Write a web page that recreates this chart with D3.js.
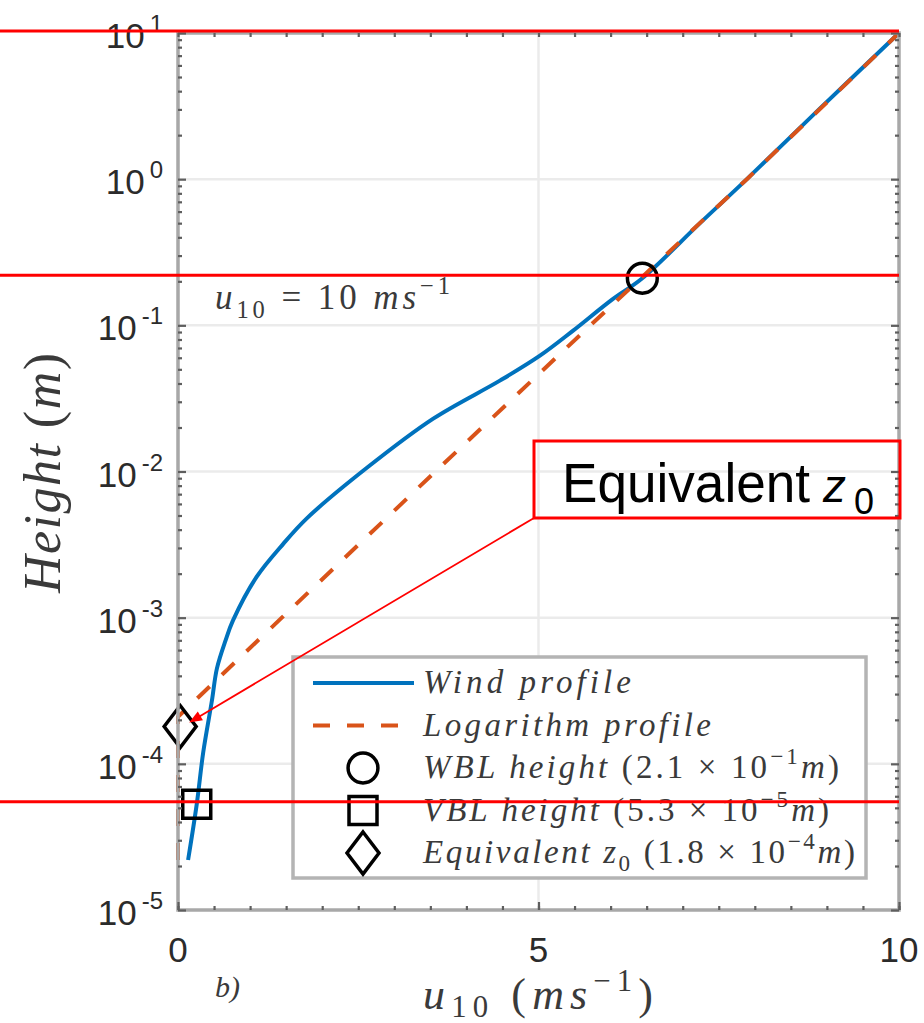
<!DOCTYPE html>
<html>
<head>
<meta charset="utf-8">
<script src="https://cdn.jsdelivr.net/npm/d3@7"></script>
<style>
  body { margin: 0; background: #fff; }
  svg { display: block; }
</style>
</head>
<body>
<svg id="chart" width="924" height="1023"></svg>
<script>
// ---- data -------------------------------------------------------------
// Wind profile (solid blue): height (m) and wind speed (m/s)
const windHeight = [2.2e-5, 5.3e-5, 1.2e-4, 2.7e-4, 4.5e-4, 7e-4, 9.5e-4, 1.9e-3, 3.2e-3, 4.8e-3,
                    1.06e-2, 2.3e-2, 4.2e-2, 6.2e-2, 9.2e-2, 0.15, 0.21, 0.5, 1, 3, 10];
const windSpeed  = [0.14, 0.26, 0.35, 0.47, 0.54, 0.66, 0.76, 1.09, 1.46, 1.79,
                    2.62, 3.54, 4.47, 5.02, 5.48, 6.02, 6.44, 7.24, 7.89, 8.89, 10];

// Logarithm profile (dashed orange)
const logHeight = [2.2e-5, 2.1e-4, 1e-3, 1e-2, 1e-1, 1, 10];
const logSpeed  = [0, 0, 1.44, 3.57, 5.72, 7.89, 10];

// Characteristic heights
const markerKind   = ["circle", "square", "diamond"];
const markerHeight = [0.21, 5.3e-5, 1.8e-4];
const markerSpeed  = [6.44, 0.26, 0.03];

// Highlight lines across the plot
const guideHeight = [10.3, 0.22, 5.5e-5];

// Axis ticks
const xTickValues = [0, 5, 10];
const xTickLabels = ["0", "5", "10"];
const xMinorTicks = d3.range(0, 10.01, 0.5);
const yTickValues = [1e-5, 1e-4, 1e-3, 1e-2, 1e-1, 1, 10];
const yTickExps   = ["-5", "-4", "-3", "-2", "-1", "0", "1"];
const yMinorTicks = yTickValues.slice(0, -1).flatMap(p => d3.range(2, 10).map(k => k * p));

// Legend entries (text parts: i = italic, n = upright, sub/sup = scripts)
const legendEntries = [
  { kind: "line",   parts: [["Wind profile", "i"]], width: 208 },
  { kind: "dash",   parts: [["Logarithm profile", "i"]], width: 288 },
  { kind: "circle", parts: [["WBL height ", "i"], ["(2.1 × 10", "n"], ["−1", "sup"], ["m", "i"], [")", "n"]], width: 416 },
  { kind: "square", parts: [["VBL height ", "i"], ["(5.3 × 10", "n"], ["−5", "sup"], ["m", "i"], [")", "n"]], width: 406 },
  { kind: "diamond",parts: [["Equivalent ", "i"], ["z", "i"], ["0", "sub"], [" (1.8 × 10", "n"], ["−4", "sup"], ["m", "i"], [")", "n"]], width: 432 }
];

// ---- setup ------------------------------------------------------------
const BLUE = "#0072BD", ORANGE = "#D95319", RED = "#ff0000";
const SERIF = "'Liberation Serif', 'Times New Roman', serif";
const SANS = "'Liberation Sans', Arial, Helvetica, sans-serif";
const TEXT = "#3a3a3a";

const svg = d3.select("#chart");
const x = d3.scaleLinear().domain([0, 10]).range([178, 899]);
const y = d3.scaleLog().domain([1e-5, 10]).range([910, 33]);
const [x0, x1] = x.range();
const [yb, yt] = y.range();

// Write a LaTeX-like math string into a <text> element
function mathText(sel, parts, base, subShift = 0.25) {
  let shift = 0;
  parts.forEach(([t, s]) => {
    const ts = sel.append("tspan").text(t);
    let target = 0;
    if (s === "sub") target = base * subShift;
    if (s === "sup") target = -base * 0.42;
    if (target - shift !== 0) ts.attr("dy", target - shift);
    shift = target;
    if (s === "sub" || s === "sup") ts.attr("font-size", base * 0.7);
    ts.attr("font-style", s === "i" ? "italic" : "normal");
  });
}

// ---- grid -------------------------------------------------------------
const grid = svg.append("g").attr("stroke", "#ebebeb").attr("stroke-width", 2.5);
grid.selectAll(".gx").data(xTickValues.slice(1, -1)).join("line")
  .attr("x1", d => x(d)).attr("x2", d => x(d)).attr("y1", yt).attr("y2", yb);
grid.selectAll(".gy").data(yTickValues.slice(1, -1)).join("line")
  .attr("x1", x0).attr("x2", x1).attr("y1", d => y(d)).attr("y2", d => y(d));

// ---- profiles ---------------------------------------------------------
const windData = windHeight.map((z, i) => ({ z, u: windSpeed[i] }));
const logData  = logHeight.map((z, i) => ({ z, u: logSpeed[i] }));

svg.append("path")
  .attr("d", d3.line().x(d => x(d.u)).y(d => y(d.z)).curve(d3.curveCatmullRom.alpha(0.5))(windData))
  .attr("fill", "none").attr("stroke", BLUE).attr("stroke-width", 4);

svg.append("path")
  .attr("d", d3.line().x(d => x(d.u)).y(d => y(d.z))(logData))
  .attr("fill", "none").attr("stroke", ORANGE).attr("stroke-width", 4)
  .attr("stroke-dasharray", "17,17");

// ---- markers ----------------------------------------------------------
function drawMarker(g, kind, cx, cy) {
  const s = g.append("path").attr("fill", "none").attr("stroke", "#000").attr("stroke-width", 3.5);
  if (kind === "circle") {
    s.attr("d", d3.symbol(d3.symbolCircle, 700)()).attr("transform", `translate(${cx},${cy})`);
  } else if (kind === "square") {
    s.attr("d", `M${cx - 14},${cy - 14}h28v28h-28Z`);
  } else {
    s.attr("d", `M${cx},${cy - 21}L${cx + 16},${cy}L${cx},${cy + 21}L${cx - 16},${cy}Z`);
  }
}
const markers = svg.append("g");
markerKind.forEach((k, i) => drawMarker(markers, k, x(markerSpeed[i]), y(markerHeight[i])));

// ---- axes -------------------------------------------------------------
const axes = svg.append("g");
axes.append("rect").attr("x", x0).attr("y", yt).attr("width", x1 - x0).attr("height", yb - yt)
  .attr("fill", "none").attr("stroke", "#a8a8a8").attr("stroke-width", 3.5);

function tickAxis(axis, transform, values, size) {
  const g = axes.append("g").attr("transform", transform)
    .call(axis.tickValues(values).tickSize(size).tickFormat(""));
  g.select(".domain").remove();
  g.selectAll(".tick line").attr("stroke", "#5e5e5e").attr("stroke-width", 2.2);
}
tickAxis(d3.axisBottom(x), `translate(0,${yb})`, xMinorTicks, -4);
tickAxis(d3.axisTop(x), `translate(0,${yt})`, xMinorTicks, -4);
tickAxis(d3.axisBottom(x), `translate(0,${yb})`, xTickValues, -8);
tickAxis(d3.axisLeft(y), `translate(${x0},0)`, yMinorTicks, -4);
tickAxis(d3.axisRight(y), `translate(${x1},0)`, yMinorTicks, -4);
tickAxis(d3.axisLeft(y), `translate(${x0},0)`, yTickValues, -8);
tickAxis(d3.axisRight(y), `translate(${x1},0)`, yTickValues, -8);

// x tick labels
svg.append("g").selectAll("text").data(xTickValues).join("text")
  .attr("x", d => x(d)).attr("y", 962).attr("text-anchor", "middle")
  .attr("font-family", SANS).attr("font-size", 35).attr("fill", "#2b2b2b")
  .text((d, i) => xTickLabels[i]);

// y tick labels: 10 with exponent
const yLab = svg.append("g").attr("font-family", SANS).attr("fill", "#2b2b2b");
yTickValues.forEach((v, i) => {
  const t = yLab.append("text").attr("x", 163).attr("y", y(v) + 15)
    .attr("text-anchor", "end").attr("font-size", 35);
  t.append("tspan").text("10");
  t.append("tspan").attr("dx", 5).attr("dy", -16).attr("font-size", 24).text(yTickExps[i]);
});

// axis titles
const xt = svg.append("text").attr("x", 423).attr("y", 1009)
  .attr("font-family", SERIF).attr("font-size", 44).attr("fill", TEXT)
  .attr("textLength", 230).attr("lengthAdjust", "spacing");
mathText(xt, [["u", "i"], ["10", "sub"], [" (", "n"], ["ms", "i"], ["−1", "sup"], [")", "n"]], 44, 0.18);

const yTitle = svg.append("text").attr("transform", "translate(60,473) rotate(-90)")
  .attr("text-anchor", "middle").attr("font-family", SERIF).attr("font-size", 52).attr("fill", TEXT)
  .attr("textLength", 240).attr("lengthAdjust", "spacing");
mathText(yTitle, [["Height", "i"], [" (", "n"], ["m", "i"], [")", "n"]], 52);

svg.append("text").attr("x", 215).attr("y", 997)
  .attr("font-family", SERIF).attr("font-size", 30).attr("font-style", "italic").attr("fill", TEXT)
  .text("b)");

// in-plot note
const note = svg.append("text").attr("x", 215).attr("y", 309)
  .attr("font-family", SERIF).attr("font-size", 35).attr("fill", TEXT)
  .attr("textLength", 235).attr("lengthAdjust", "spacing");
mathText(note, [["u", "i"], ["10", "sub"], [" = 10 ", "n"], ["ms", "i"], ["−1", "sup"]], 35);

// ---- legend -----------------------------------------------------------
const legend = svg.append("g");
legend.append("rect").attr("x", 293).attr("y", 657).attr("width", 573).attr("height", 221)
  .attr("fill", "#fff").attr("stroke", "#b4b4b4").attr("stroke-width", 3.5);
legendEntries.forEach((e, i) => {
  const cy = 683 + i * 42.5;
  if (e.kind === "line" || e.kind === "dash") {
    legend.append("line").attr("x1", 313).attr("x2", 414).attr("y1", cy).attr("y2", cy)
      .attr("stroke", e.kind === "line" ? BLUE : ORANGE).attr("stroke-width", 4)
      .attr("stroke-dasharray", e.kind === "dash" ? "17,17" : null);
  } else {
    drawMarker(legend, e.kind, 363, cy);
  }
  const t = legend.append("text").attr("x", 423).attr("y", cy + 10)
    .attr("font-family", SERIF).attr("font-size", 33).attr("fill", TEXT)
    .attr("textLength", e.width).attr("lengthAdjust", "spacing");
  mathText(t, e.parts, 33);
});

// ---- red highlights ---------------------------------------------------
const hl = svg.append("g");
hl.selectAll("line").data(guideHeight).join("line")
  .attr("x1", 0).attr("x2", x1).attr("y1", d => y(d)).attr("y2", d => y(d))
  .attr("stroke", RED).attr("stroke-width", 3);

hl.append("rect").attr("x", 534).attr("y", 441).attr("width", 366).attr("height", 77)
  .attr("fill", "none").attr("stroke", RED).attr("stroke-width", 3);

// arrow from the box to the equivalent z0 marker
const tipX = x(markerSpeed[2]) + 9, tipY = y(markerHeight[2]) - 4;
const tailX = 534, tailY = 518;
const ang = Math.atan2(tipY - tailY, tipX - tailX);
hl.append("line").attr("x1", tailX).attr("y1", tailY)
  .attr("x2", tipX - 9 * Math.cos(ang)).attr("y2", tipY - 9 * Math.sin(ang))
  .attr("stroke", RED).attr("stroke-width", 1.8);
const ah = 13, aw = 5;
hl.append("path").attr("fill", RED).attr("d",
  `M${tipX},${tipY}` +
  `L${tipX - ah * Math.cos(ang) + aw * Math.sin(ang)},${tipY - ah * Math.sin(ang) - aw * Math.cos(ang)}` +
  `L${tipX - ah * Math.cos(ang) - aw * Math.sin(ang)},${tipY - ah * Math.sin(ang) + aw * Math.cos(ang)}Z`);

const eq = hl.append("text").attr("font-family", SANS).attr("fill", "#000");
eq.append("tspan").attr("x", 562).attr("y", 502).attr("font-size", 56)
  .attr("textLength", 248).attr("lengthAdjust", "spacingAndGlyphs").text("Equivalent");
eq.append("tspan").attr("x", 823).attr("y", 502).attr("font-size", 46).attr("font-style", "italic").text("z");
eq.append("tspan").attr("x", 854).attr("y", 514).attr("font-size", 36).text("0");
</script>
</body>
</html>
